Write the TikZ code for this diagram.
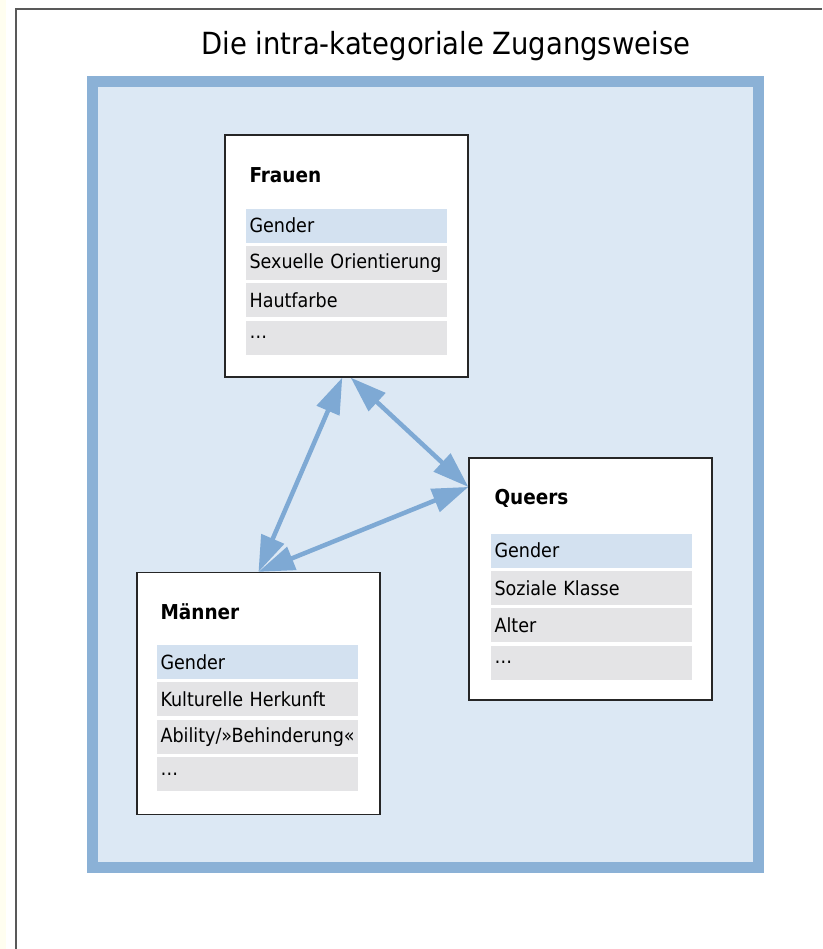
\documentclass[tikz,border=0pt]{standalone}
\usepackage{fontspec}
\setmainfont{DejaVu Sans Condensed}
\usetikzlibrary{positioning,arrows.meta}

\definecolor{rahmenblau}{HTML}{8BB1D6}
\definecolor{flaechenblau}{HTML}{DCE8F4}
\definecolor{zeilenblau}{HTML}{D3E1F0}
\definecolor{zeilengrau}{HTML}{E4E4E6}
\definecolor{pfeilblau}{HTML}{7EA9D4}

\begin{document}
\begin{tikzpicture}[x=1pt,y=-1pt,>={Triangle[length=36pt,width=24pt]},
    gruppe/.style={rectangle,draw=black!85,line width=1.3pt,fill=white,minimum width=243pt,minimum height=242pt},
    kopf/.style={rectangle,inner xsep=4pt,inner ysep=0pt,text width=193pt,minimum height=34pt,align=left,font=\fontsize{20.5}{22}\selectfont\bfseries},
    zeile/.style={rectangle,fill=zeilengrau,inner xsep=4pt,inner ysep=0pt,text width=193pt,minimum height=34pt,align=left,font=\fontsize{19.5}{22}\selectfont},
    erste/.style={zeile,fill=zeilenblau},
    pfeil/.style={<->,draw=pfeilblau,line width=4.5pt}]
    \useasboundingbox (0,0) rectangle (822,949);
    \fill[white] (0,0) rectangle (822,949);
    \fill[yellow!6] (0,0) rectangle (6,949);
    \draw[black!65,line width=2pt] (16,949) -- (16,9) -- (822,9);

    \node (titel) at (446,46) {\fontsize{30.5}{34}\selectfont Die intra-kategoriale Zugangsweise};
    \node[rectangle,draw=rahmenblau,fill=flaechenblau,line width=11pt,minimum width=666pt,minimum height=785pt] (bereich) at (425,474.5) {};

    % Frauen
    \node[gruppe] (frauen) at (346.5,256) {};
    \node[erste,below right=74pt and 21pt of frauen.north west] (frauen-1) {Gender};
    \node[zeile,below=3pt of frauen-1] (frauen-2) {Sexuelle Orientierung};
    \node[zeile,below=3pt of frauen-2] (frauen-3) {Hautfarbe};
    \node[zeile,below=3pt of frauen-3] (frauen-4) {\dots};
    \node[kopf,above=16pt of frauen-1] (frauen-kopf) {Frauen};

    % Queers
    \node[gruppe] (queers) at (590.5,579) {};
    \node[erste,below right=76pt and 22pt of queers.north west] (queers-1) {Gender};
    \node[zeile,below=3pt of queers-1] (queers-2) {Soziale Klasse};
    \node[zeile,below=3pt of queers-2] (queers-3) {Alter};
    \node[zeile,below=3pt of queers-3] (queers-4) {\dots};
    \node[kopf,above=18pt of queers-1] (queers-kopf) {Queers};

    % Maenner
    \node[gruppe] (maenner) at (258.5,693.5) {};
    \node[erste,below right=73pt and 20pt of maenner.north west] (maenner-1) {Gender};
    \node[zeile,below=3pt of maenner-1] (maenner-2) {Kulturelle Herkunft};
    \node[zeile,below=3pt of maenner-2] (maenner-3) {Ability/»Behinderung«};
    \node[zeile,below=3pt of maenner-3] (maenner-4) {\dots};
    \node[kopf,above=16pt of maenner-1] (maenner-kopf) {Männer};

    \draw[pfeil] (frauen.268) -- (maenner.north);
    \draw[pfeil] (frauen.272) -- (queers.143);
    \draw[pfeil] (maenner.north) -- (queers.143);
\end{tikzpicture}
\end{document}
